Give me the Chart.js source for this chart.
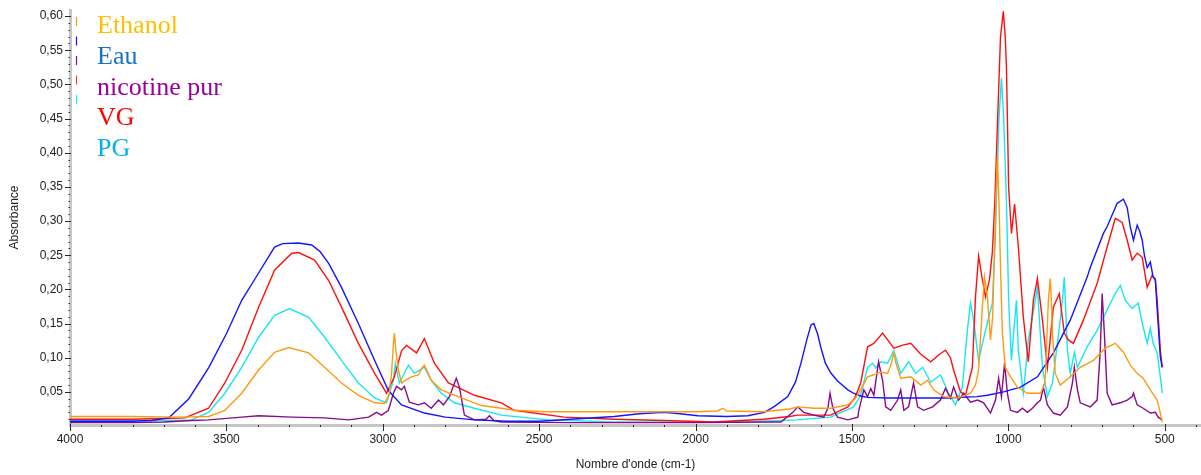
<!DOCTYPE html>
<html lang="fr">
<head>
<meta charset="utf-8">
<title>Spectres IR</title>
<script src="https://cdn.jsdelivr.net/npm/chart.js@4.4.1/dist/chart.umd.min.js"></script>
<style>
  html, body { margin: 0; padding: 0; background: #ffffff; }
  #wrap { width: 1201px; height: 475px; position: relative; }
</style>
</head>
<body>
<div id="wrap"><canvas id="spectre"></canvas></div>
<script>
// Spectres d'absorbance : [nombre d'onde (cm-1), absorbance]
const ethanol = [
  [4000,0.014],[3800,0.014],[3650,0.013],[3557,0.014],[3505,0.023],[3451,0.048],[3397,0.082],[3346,0.108],
  [3301,0.115],[3237,0.107],[3186,0.086],[3132,0.063],[3078,0.045],[3026,0.034],[2995,0.033],[2980,0.045],
  [2972,0.077],[2966,0.120],[2963,0.136],[2958,0.110],[2950,0.082],[2940,0.063],[2925,0.068],[2908,0.072],
  [2886,0.075],[2875,0.085],[2867,0.089],[2858,0.080],[2845,0.067],[2813,0.053],[2759,0.043],[2685,0.030],
  [2621,0.026],[2580,0.023],[2480,0.021],[2366,0.021],[2200,0.021],[2000,0.021],[1930,0.022],[1913,0.026],
  [1900,0.022],[1782,0.021],[1700,0.025],[1673,0.028],[1620,0.026],[1568,0.026],[1513,0.031],[1490,0.040],
  [1472,0.053],[1450,0.072],[1430,0.075],[1408,0.079],[1386,0.077],[1375,0.090],[1366,0.107],[1358,0.090],
  [1344,0.070],[1312,0.072],[1280,0.060],[1258,0.067],[1239,0.053],[1207,0.043],[1162,0.041],[1121,0.048],
  [1105,0.060],[1095,0.082],[1083,0.174],[1076,0.218],[1067,0.189],[1057,0.126],[1050,0.160],[1047,0.213],
  [1040,0.330],[1035,0.395],[1030,0.330],[1025,0.232],[1019,0.136],[1010,0.086],[993,0.072],[971,0.057],
  [939,0.048],[897,0.048],[885,0.060],[881,0.077],[875,0.150],[872,0.184],[866,0.216],[862,0.180],
  [859,0.136],[850,0.077],[834,0.060],[802,0.072],[770,0.086],[728,0.096],[690,0.114],[658,0.121],
  [632,0.108],[610,0.089],[588,0.077],[569,0.070],[546,0.053],[524,0.038],[514,0.019],[508,0.006]
];

const eau = [
  [4000,0.007],[3800,0.007],[3740,0.008],[3684,0.012],[3620,0.040],[3556,0.086],[3500,0.135],[3451,0.184],
  [3397,0.224],[3346,0.262],[3320,0.267],[3270,0.268],[3227,0.265],[3200,0.255],[3173,0.238],[3132,0.203],
  [3078,0.150],[3026,0.096],[2982,0.052],[2940,0.031],[2867,0.019],[2800,0.013],[2707,0.009],[2600,0.007],
  [2500,0.007],[2400,0.010],[2260,0.014],[2180,0.018],[2100,0.020],[2050,0.018],[1992,0.015],[1900,0.014],
  [1833,0.015],[1780,0.020],[1750,0.028],[1705,0.043],[1680,0.065],[1663,0.092],[1645,0.125],[1631,0.148],
  [1622,0.150],[1610,0.135],[1600,0.116],[1585,0.092],[1568,0.078],[1546,0.066],[1513,0.053],[1495,0.048],
  [1472,0.044],[1450,0.042],[1386,0.041],[1300,0.041],[1200,0.041],[1100,0.043],[1067,0.045],[1015,0.050],
  [961,0.057],[907,0.072],[856,0.107],[802,0.155],[748,0.218],[738,0.232],[696,0.282],[684,0.292],
  [652,0.326],[632,0.332],[620,0.320],[610,0.291],[600,0.272],[588,0.294],[580,0.285],[572,0.272],
  [565,0.250],[556,0.232],[546,0.240],[537,0.218],[530,0.215],[524,0.170],[514,0.101],[508,0.086]
];

const nicotinePur = [
  [4000,0.005],[3800,0.005],[3700,0.006],[3611,0.008],[3557,0.009],[3451,0.013],[3397,0.015],[3291,0.013],
  [3186,0.012],[3109,0.009],[3045,0.013],[3020,0.020],[3004,0.016],[2982,0.023],[2966,0.048],[2956,0.058],
  [2940,0.053],[2931,0.058],[2915,0.035],[2886,0.031],[2867,0.034],[2845,0.026],[2822,0.038],[2806,0.031],
  [2787,0.043],[2765,0.070],[2755,0.057],[2739,0.016],[2707,0.009],[2670,0.010],[2659,0.015],[2645,0.008],
  [2621,0.006],[2400,0.005],[2000,0.005],[1760,0.006],[1727,0.006],[1689,0.020],[1673,0.028],[1654,0.020],
  [1622,0.016],[1590,0.013],[1577,0.026],[1570,0.048],[1561,0.026],[1546,0.013],[1513,0.009],[1481,0.013],
  [1478,0.023],[1462,0.053],[1450,0.043],[1440,0.055],[1430,0.045],[1415,0.094],[1402,0.067],[1392,0.028],
  [1376,0.023],[1354,0.038],[1344,0.053],[1334,0.023],[1319,0.028],[1303,0.063],[1290,0.028],[1271,0.023],
  [1242,0.028],[1217,0.038],[1201,0.055],[1185,0.041],[1175,0.057],[1159,0.038],[1143,0.048],[1121,0.035],
  [1098,0.038],[1079,0.034],[1057,0.019],[1041,0.038],[1031,0.070],[1022,0.043],[1012,0.092],[1003,0.048],
  [993,0.023],[971,0.020],[955,0.026],[939,0.020],[923,0.026],[907,0.034],[897,0.038],[888,0.057],
  [875,0.031],[856,0.019],[834,0.016],[811,0.028],[795,0.063],[789,0.086],[779,0.053],[770,0.034],
  [738,0.028],[716,0.038],[706,0.111],[700,0.194],[693,0.136],[684,0.048],[668,0.031],[642,0.034],
  [620,0.038],[604,0.043],[600,0.048],[588,0.031],[569,0.026],[546,0.019],[530,0.020],[521,0.013],[508,0.009]
];

const vg = [
  [4000,0.010],[3800,0.010],[3700,0.011],[3633,0.012],[3557,0.026],[3505,0.063],[3451,0.111],[3397,0.174],
  [3346,0.228],[3291,0.253],[3269,0.254],[3218,0.243],[3173,0.213],[3132,0.174],[3078,0.121],[3026,0.077],
  [2988,0.048],[2963,0.072],[2940,0.110],[2924,0.118],[2892,0.107],[2867,0.128],[2835,0.092],[2790,0.063],
  [2707,0.045],[2621,0.034],[2580,0.023],[2420,0.013],[2260,0.010],[2100,0.008],[1941,0.006],[1782,0.010],
  [1700,0.014],[1673,0.016],[1568,0.016],[1513,0.028],[1490,0.042],[1472,0.063],[1450,0.116],[1430,0.121],
  [1402,0.136],[1366,0.114],[1340,0.118],[1312,0.121],[1280,0.105],[1248,0.094],[1220,0.105],[1201,0.111],
  [1185,0.100],[1175,0.082],[1153,0.050],[1137,0.045],[1115,0.086],[1105,0.189],[1095,0.249],[1085,0.220],
  [1073,0.189],[1060,0.215],[1051,0.255],[1043,0.330],[1035,0.440],[1025,0.570],[1016,0.607],[1010,0.570],
  [1006,0.525],[999,0.350],[990,0.282],[980,0.325],[968,0.262],[952,0.159],[936,0.094],[920,0.184],
  [907,0.216],[891,0.155],[875,0.086],[856,0.174],[837,0.194],[821,0.136],[808,0.126],[792,0.121],
  [760,0.155],[716,0.209],[684,0.262],[658,0.304],[636,0.298],[620,0.272],[604,0.243],[588,0.253],
  [572,0.247],[556,0.203],[540,0.221],[530,0.213],[524,0.184],[514,0.111],[508,0.086]
];

const pg = [
  [4000,0.008],[3800,0.008],[3700,0.008],[3611,0.009],[3557,0.020],[3505,0.048],[3451,0.086],[3397,0.130],
  [3346,0.162],[3298,0.172],[3237,0.159],[3186,0.130],[3132,0.096],[3078,0.063],[3026,0.041],[2988,0.034],
  [2966,0.067],[2960,0.092],[2947,0.063],[2918,0.089],[2899,0.077],[2867,0.086],[2845,0.067],[2813,0.048],
  [2771,0.034],[2707,0.026],[2621,0.016],[2471,0.009],[2260,0.006],[2000,0.006],[1800,0.007],[1673,0.009],
  [1568,0.013],[1495,0.028],[1472,0.045],[1450,0.086],[1434,0.092],[1424,0.085],[1408,0.094],[1386,0.092],
  [1366,0.110],[1344,0.077],[1319,0.094],[1296,0.077],[1274,0.086],[1248,0.064],[1217,0.075],[1191,0.048],
  [1169,0.031],[1147,0.057],[1131,0.140],[1121,0.180],[1111,0.155],[1095,0.096],[1073,0.140],[1051,0.180],
  [1041,0.282],[1030,0.450],[1022,0.509],[1015,0.452],[1006,0.330],[999,0.184],[990,0.096],[983,0.136],
  [974,0.184],[968,0.111],[952,0.048],[936,0.126],[923,0.159],[907,0.203],[891,0.086],[875,0.043],
  [859,0.063],[843,0.121],[827,0.184],[821,0.218],[811,0.111],[802,0.077],[789,0.108],[779,0.086],
  [748,0.116],[716,0.140],[684,0.170],[658,0.194],[642,0.206],[626,0.184],[604,0.172],[585,0.180],
  [569,0.145],[556,0.121],[546,0.143],[537,0.121],[524,0.107],[514,0.072],[508,0.048]
];

const seriesNames = ['Ethanol', 'Eau', 'nicotine pur', 'VG', 'PG'];
const seriesData = [ethanol, eau, nicotinePur, vg, pg];
const lineColors = ['#ff9a10', '#1414ff', '#8a0a8a', '#ff1010', '#18e6f0'];
const legendTextColors = ['#ffc000', '#1b72c0', '#990099', '#ff0000', '#00b0f0'];
const legendMarkColors = ['#ff9900', '#3300ff', '#990099', '#ff3a3a', '#00ffff'];

// Graduations
const xMajorTicks = [4000, 3500, 3000, 2500, 2000, 1500, 1000, 500];
const xMinorStep = 100;
const yMajorTicks = [0.05, 0.10, 0.15, 0.20, 0.25, 0.30, 0.35, 0.40, 0.45, 0.50, 0.55, 0.60];
const yMinorStep = 0.01;

const X_MIN = 384, X_MAX = 4000;
const Y_MIN = 0.0015, Y_MAX = 0.609;

const tickFont = { family: "'Liberation Sans', Arial, sans-serif", size: 12 };
const inkColor = '#222222';

function isMajorX(v) { return xMajorTicks.includes(v); }
function isMajorY(v) { return yMajorTicks.some(m => Math.abs(m - v) < 1e-6); }

// Petites et grandes graduations dessinées sur les axes
const axisTicks = {
  id: 'axisTicks',
  afterDraw(chart) {
    const { ctx, chartArea, scales } = chart;
    ctx.save();
    ctx.strokeStyle = '#2a2a2a';
    ctx.lineWidth = 1;
    const ys = scales.y;
    ys.ticks.forEach(t => {
      const py = Math.round(ys.getPixelForValue(t.value)) + 0.5;
      const major = isMajorY(t.value);
      ctx.beginPath();
      ctx.moveTo(chartArea.left - (major ? 5 : 1.5), py);
      ctx.lineTo(chartArea.left + (major ? 1 : 0), py);
      ctx.stroke();
    });
    const xs = scales.x;
    xs.ticks.forEach(t => {
      const px = Math.round(xs.getPixelForValue(t.value)) + 0.5;
      const major = isMajorX(t.value);
      ctx.beginPath();
      ctx.moveTo(px, chartArea.bottom - (major ? 1 : 0));
      ctx.lineTo(px, chartArea.bottom + (major ? 6 : 2));
      ctx.stroke();
    });
    ctx.restore();
  }
};

// Légende : repères colorés et noms des échantillons
const sampleLegend = {
  id: 'sampleLegend',
  afterDraw(chart) {
    const { ctx, chartArea } = chart;
    ctx.save();
    const markX = chartArea.left + 6.5;
    seriesNames.forEach((name, i) => {
      ctx.strokeStyle = legendMarkColors[i];
      ctx.lineWidth = 1.2;
      const top = chartArea.top + 7 + i * 19.5;
      ctx.beginPath();
      ctx.moveTo(markX, top);
      ctx.lineTo(markX, top + 9);
      ctx.stroke();
    });
    ctx.font = "26px 'Liberation Serif', 'Times New Roman', serif";
    ctx.textAlign = 'left';
    ctx.textBaseline = 'alphabetic';
    seriesNames.forEach((name, i) => {
      ctx.fillStyle = legendTextColors[i];
      ctx.fillText(name, chartArea.left + 27, chartArea.top + 23 + i * 30.75);
    });
    ctx.restore();
  }
};

const datasets = seriesNames.map((name, i) => ({
  label: name,
  data: seriesData[i].map(p => ({ x: p[0], y: p[1] })),
  borderColor: lineColors[i],
  borderWidth: 1.4,
  pointRadius: 0,
  tension: 0,
  fill: false
}));

new Chart(document.getElementById('spectre'), {
  type: 'line',
  data: { datasets },
  plugins: [axisTicks, sampleLegend],
  options: {
    responsive: true,
    maintainAspectRatio: false,
    animation: false,
    parsing: true,
    layout: { padding: { top: 10, right: 0, left: 0, bottom: 0 } },
    plugins: {
      legend: { display: false },
      tooltip: { enabled: false }
    },
    scales: {
      x: {
        type: 'linear',
        reverse: true,
        min: X_MIN,
        max: X_MAX,
        afterBuildTicks(scale) {
          const t = [];
          for (let v = X_MAX; v >= X_MIN; v -= xMinorStep) t.push({ value: v });
          scale.ticks = t;
        },
        afterFit(scale) { scale.height = 50; scale.paddingRight = 0; },
        grid: { display: false, drawTicks: false },
        border: { display: true, color: '#c6c6c6', width: 3 },
        ticks: {
          autoSkip: false,
          maxRotation: 0,
          padding: 7,
          color: inkColor,
          font: tickFont,
          callback: v => (isMajorX(v) ? String(v) : '')
        },
        title: {
          display: true,
          text: "Nombre d'onde (cm-1)",
          color: inkColor,
          font: tickFont,
          padding: { top: 0, bottom: 3 }
        }
      },
      y: {
        type: 'linear',
        min: Y_MIN,
        max: Y_MAX,
        afterBuildTicks(scale) {
          const t = [];
          for (let k = 1; k <= 60; k++) t.push({ value: +(k * yMinorStep).toFixed(2) });
          scale.ticks = t;
        },
        afterFit(scale) {
          scale.width = 70;
          scale.paddingTop = 0;
          scale.paddingBottom = 0;
        },
        grid: { display: false, drawTicks: false },
        border: { display: true, color: '#c6c6c6', width: 3 },
        ticks: {
          autoSkip: false,
          padding: 7,
          color: inkColor,
          font: tickFont,
          callback: v => (isMajorY(v) ? v.toFixed(2).replace('.', ',') : '')
        },
        title: {
          display: true,
          text: 'Absorbance',
          color: inkColor,
          font: tickFont,
          padding: { top: 7, bottom: 0 }
        }
      }
    }
  }
});
</script>
</body>
</html>
